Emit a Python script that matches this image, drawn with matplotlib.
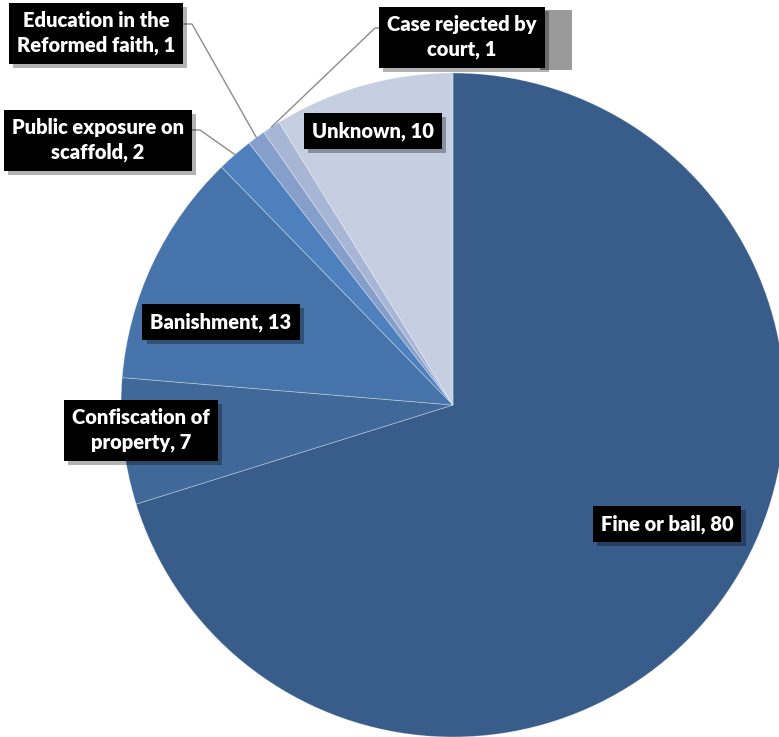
import numpy as np
import matplotlib.pyplot as plt
import matplotlib.patheffects as pe
from matplotlib.patches import Rectangle

# dados do gráfico
categorias = ["Fine or bail", "Confiscation of\nproperty", "Banishment",
              "Public exposure on\nscaffold", "Education in the\nReformed faith",
              "Case rejected by\ncourt", "Unknown"]
valores = [80, 7, 13, 2, 1, 1, 10]
cores = ["#385D8A", "#406999", "#4674AA", "#4D80BD", "#869ECA", "#A8B6D6", "#C6CEE2"]

# layout (pixels da imagem, origem no topo)
W, H = 779, 737
CENTRO = (453, 405)
RAIO = 332
pos_rotulos = [(667, 524), (141, 430), (221, 322), (98, 140), (96, 33), (462, 37), (373, 131)]
# rótulos com linha de chamada: ponto de saída do rótulo
chamadas = {3: (192, 130), 4: (184, 24), 5: (380, 28)}

fig = plt.figure(figsize=(W / 100, H / 100), dpi=100)
ax = fig.add_axes([0, 0, 1, 1])

ax.pie(valores, colors=cores, startangle=90, counterclock=False,
       center=(CENTRO[0], H - CENTRO[1]), radius=RAIO,
       wedgeprops=dict(edgecolor=(1, 1, 1, 0.35), linewidth=0.6))
ax.set_xlim(0, W)
ax.set_ylim(0, H)
ax.axis("off")

# bloco cinza atrás do rótulo "Case rejected" (aparece assim no original)
ax.add_patch(Rectangle((540, H - 70), 32, 60, fc="#9a9a9a", ec="none", zorder=3))

total = sum(valores)
acum = np.cumsum([0] + valores)

for i, (cat, v) in enumerate(zip(categorias, valores)):
    tx, ty = pos_rotulos[i]
    texto = f"{cat}, {v}"
    if i in chamadas:
        # ponto médio da fatia na borda
        theta = np.deg2rad((acum[i] + v / 2) / total * 360)
        px = CENTRO[0] + RAIO * np.sin(theta)
        py = CENTRO[1] - RAIO * np.cos(theta)
        sx, sy = chamadas[i]
        dx = 8 if sx < px else -5
        ax.plot([sx, sx + dx, px], [H - sy, H - sy, H - py], color="#8c8c8c", lw=1.0, zorder=3)
    t = ax.text(tx, H - ty, texto, ha="center", va="center", color="white",
                fontsize=14.5, fontweight="heavy", family="Lato", linespacing=1.4,
                bbox=dict(boxstyle="square,pad=0.4", fc="black", ec="none"), zorder=5)
    t.get_bbox_patch().set_path_effects([
        pe.SimplePatchShadow(offset=(3, -3), shadow_rgbFace="black", alpha=0.3),
        pe.Normal()])

fig.savefig("out.png", dpi=100)
